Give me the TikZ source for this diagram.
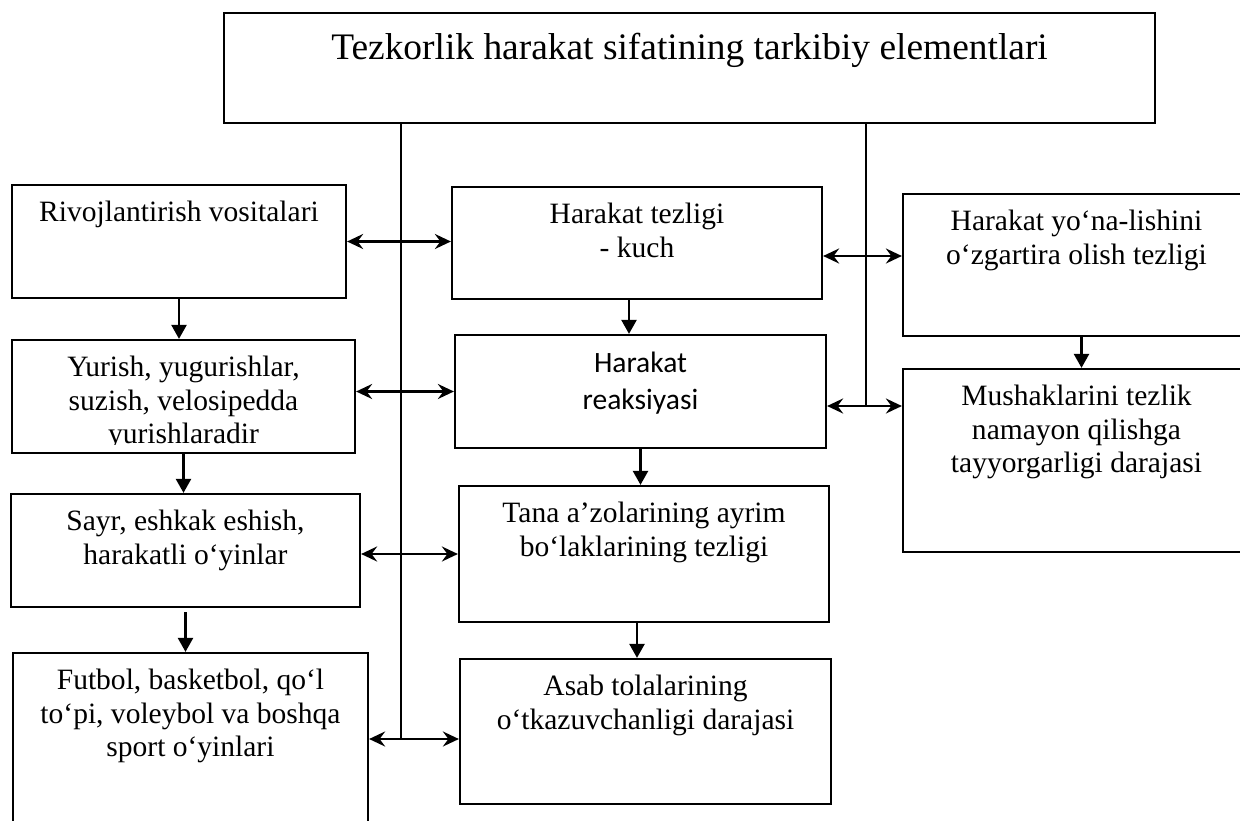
\documentclass[tikz,border=0pt]{standalone}
\usepackage{fontspec}
\setmainfont{Liberation Serif}
\newfontfamily\calib{Carlito}
\usetikzlibrary{positioning,calc,arrows.meta}

\begin{document}
\begin{tikzpicture}[x=0.02cm, y=-0.02cm,
  box/.style={draw, line width=1.3pt, inner sep=0pt},
  txt/.style={align=center, inner sep=0pt, font=\fontsize{16.8}{19.06}\selectfont},
  trunk/.style={line width=1pt},
  both/.style={line width=1.4pt, <->, >={Stealth[length=0.32cm, width=0.3cm, inset=0.11cm]}},
  down/.style={line width=1.4pt, -{Triangle[length=0.28cm, width=0.3cm]}}]
  \useasboundingbox (0,0) rectangle (1240,821);
  \clip (0,0) rectangle (1240,821);

  % boxes
  \node[box, minimum width=18.62cm, minimum height=2.2cm] (title) at (689.5,68) {};
  \node[box, minimum width=6.68cm, minimum height=2.26cm] (vosita) at (179,241.5) {};
  \node[box, minimum width=6.86cm, minimum height=2.26cm] (yurish) at (183.5,396.5) {};
  \node[box, minimum width=6.98cm, minimum height=2.26cm] (sayr) at (185.5,550.5) {};
  \node[box, minimum width=7.1cm, minimum height=3.74cm] (futbol) at (190.5,746.5) {};
  \node[box, minimum width=7.4cm, minimum height=2.24cm] (tezlik) at (637,243) {};
  \node[box, minimum width=7.42cm, minimum height=2.26cm] (reak) at (640.5,391.5) {};
  \node[box, minimum width=7.4cm, minimum height=2.72cm] (tana) at (644,554) {};
  \node[box, minimum width=7.42cm, minimum height=2.9cm] (asab) at (645.5,731.5) {};
  \node[box, minimum width=6.94cm, minimum height=2.84cm] (yonal) at (1076.5,265) {};
  \node[box, minimum width=6.94cm, minimum height=3.66cm] (mush) at (1076.5,460.5) {};

  % texts
  \node[txt, font=\fontsize{21.3}{25}\selectfont, below=0.41cm of title.north] (t-title) {Tezkorlik harakat sifatining tarkibiy elementlari};
  \node[txt, below=0.34cm of vosita.north] (t-vosita) {Rivojlantirish vositalari};
  \begin{scope}
    \clip (12,340) rectangle (355,444); % last line is cut off
    \node[txt, below=0.34cm of yurish.north] (t-yurish) {Yurish, yugurishlar,\\ suzish, velosipedda\\ yurishlaradir};
  \end{scope}
  \node[txt, below=0.34cm of sayr.north] (t-sayr) {Sayr, eshkak eshish,\\ harakatli o‘yinlar};
  \node[txt, below=0.34cm of futbol.north] (t-futbol) {Futbol, basketbol, qo‘l\\ to‘pi, voleybol va boshqa\\ sport o‘yinlari};
  \node[txt, below=0.34cm of tezlik.north] (t-tezlik) {Harakat tezligi\\ - kuch};
  \node[txt, font=\calib\fontsize{16.8}{21}\selectfont, below=0.36cm of reak.north] (t-reak) {Harakat\\ reaksiyasi};
  \node[txt, below=0.34cm of tana.north] (t-tana) {Tana a’zolarining ayrim\\ bo‘laklarining tezligi};
  \node[txt, below=0.34cm of asab.north] (t-asab) {Asab tolalarining\\ o‘tkazuvchanligi darajasi};
  \node[txt, below=0.34cm of yonal.north] (t-yonal) {Harakat yo‘na-lishini\\ o‘zgartira olish tezligi};
  \node[txt, below=0.34cm of mush.north] (t-mush) {Mushaklarini tezlik\\ namayon qilishga\\ tayyorgarligi darajasi};

  % trunk lines from the title
  \coordinate (r1) at (401,739);
  \coordinate (r2) at (866,406);
  \draw[trunk] (title.south -| r1) -- (r1);
  \draw[trunk] (title.south -| r2) -- (r2);

  % double arrows
  \draw[both] (vosita.east) -- (vosita.east -| tezlik.west);
  \draw[both] (reak.west -| yurish.east) -- (reak.west);
  \draw[both] (tana.west -| sayr.east) -- (tana.west);
  \draw[both] (futbol.east |- r1) -- (asab.west |- r1);
  \draw[both] ($(tezlik.east)+(0,13)$) -- ($(tezlik.east -| yonal.west)+(0,13)$);
  \draw[both] (reak.east |- r2) -- (mush.west |- r2);

  % down arrows
  \draw[down] (vosita.south) -- (vosita.south |- yurish.north);
  \draw[down] (yurish.south) -- (yurish.south |- sayr.north);
  \draw[down] ($(sayr.south)+(0,4)$) -- (sayr.south |- futbol.north);
  \draw[down] ($(tezlik.south)+(-8,0)$) -- ($(tezlik.south |- reak.north)+(-8,0)$);
  \draw[down] (reak.south) -- (reak.south |- tana.north);
  \draw[down] ($(tana.south)+(-7,0)$) -- ($(tana.south |- asab.north)+(-7,0)$);
  \draw[down] ($(yonal.south)+(5,0)$) -- ($(yonal.south |- mush.north)+(5,0)$);
\end{tikzpicture}
\end{document}
